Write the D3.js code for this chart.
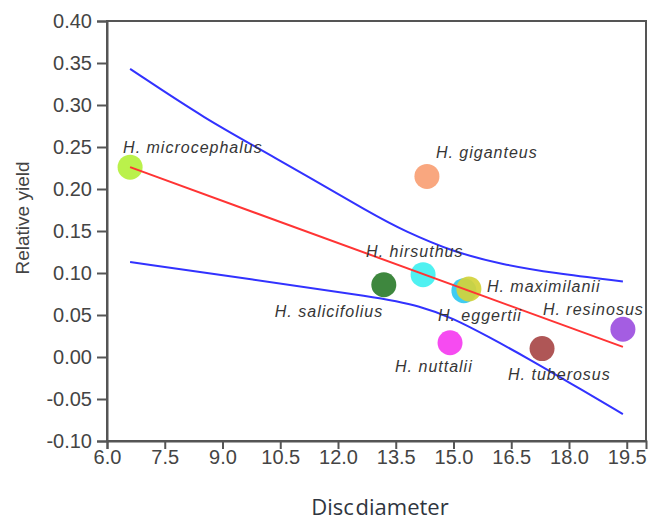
<!DOCTYPE html>
<html>
<head>
<meta charset="utf-8">
<script src="https://cdn.jsdelivr.net/npm/d3@7"></script>
<style>
  body { margin: 0; background: #fff; }
  svg { display: block; }
  .tick text { font-family: "Liberation Sans", Arial, sans-serif; font-size: 20px; fill: #444; }
  .label { font-family: "Liberation Sans", Arial, sans-serif; font-size: 16px; font-style: italic; letter-spacing: 1px; fill: #363636; }
</style>
</head>
<body>
<svg id="chart" width="649" height="524"></svg>
<script>
// species and their values (disc diameter, relative yield)
const species = ["H. microcephalus", "H. giganteus", "H. hirsuthus", "H. salicifolius", "H. eggertii",
                 "H. maximilanii", "H. resinosus", "H. nuttalii", "H. tuberosus"];
const discDiameter = [6.6, 14.31, 14.21, 13.19, 15.27, 15.40, 19.40, 14.91, 17.30];
const relYield = [0.226, 0.215, 0.098, 0.086, 0.079, 0.081, 0.033, 0.017, 0.010];
const colors = ["#b4f03c", "#f8a074", "#40f0f0", "#2e7d2e", "#30c8f0", "#d2d23a", "#9c4fe0", "#f53cf0", "#a84848"];

// fitted line and confidence band
const fitX = [6.6, 19.4];
const fitY = [0.226, 0.012];
const upperX = [6.6, 8.6, 10.16, 13.01, 13.69, 14.99, 16.29, 17.58, 19.4];
const upperY = [0.343, 0.282, 0.243, 0.167, 0.151, 0.125, 0.110, 0.100, 0.090];
const lowerX = [6.6, 9.82, 13.01, 14.13, 14.99, 15.87, 16.99, 18.03, 19.4];
const lowerY = [0.113, 0.092, 0.071, 0.061, 0.046, 0.025, -0.003, -0.031, -0.068];

const xTicks = [6.0, 7.5, 9.0, 10.5, 12.0, 13.5, 15.0, 16.5, 18.0, 19.5];
const yTicks = [0.40, 0.35, 0.30, 0.25, 0.20, 0.15, 0.10, 0.05, 0.00, -0.05, -0.10];

// label offsets from each point (px)
const labelOffsets = [[-7, -14], [9, -18], [-57, -18], [-109, 32], [-26, 30], [18, 3], [-80, -14], [-55, 29], [-34, 31]];

const svg = d3.select("#chart");
const plotLeft = 107, plotRight = 646, plotTop = 21, plotBottom = 441;

const x = d3.scaleLinear().domain([6, 20]).range([plotLeft, plotRight]);
const y = d3.scaleLinear().domain([-0.10, 0.40]).range([plotBottom, plotTop]);

// box
svg.append("rect")
    .attr("x", plotLeft).attr("y", plotTop)
    .attr("width", plotRight - plotLeft).attr("height", plotBottom - plotTop)
    .attr("fill", "none").attr("stroke", "#555").attr("stroke-width", 2);

const xAxis = svg.append("g")
    .attr("transform", `translate(0,${plotBottom})`)
    .call(d3.axisBottom(x).tickValues(xTicks).tickFormat(d3.format(".1f")).tickSize(8).tickPadding(1));
const yAxis = svg.append("g")
    .attr("transform", `translate(${plotLeft},0)`)
    .call(d3.axisLeft(y).tickValues(yTicks).tickFormat(d => d3.format(".2f")(d).replace("−", "-")).tickSize(10).tickPadding(5));
[xAxis, yAxis].forEach(g => {
    g.select(".domain").attr("stroke", "#555").attr("stroke-width", 2);
    g.selectAll(".tick line").attr("stroke", "#555").attr("stroke-width", 2);
});

// points
svg.selectAll(".dot")
    .data(species)
    .enter()
    .append("circle")
    .attr("class", "dot")
    .attr("cx", (d, i) => x(discDiameter[i]))
    .attr("cy", (d, i) => y(relYield[i]))
    .attr("r", 12.5)
    .attr("fill", (d, i) => colors[i])
    .attr("opacity", 0.92);

// lines
const line = d3.line().curve(d3.curveBasis);
const toPts = (xs, ys) => xs.map((v, i) => [x(v), y(ys[i])]);
svg.append("path").attr("d", line(toPts(upperX, upperY)))
    .attr("fill", "none").attr("stroke", "#3232ff").attr("stroke-width", 2);
svg.append("path").attr("d", line(toPts(lowerX, lowerY)))
    .attr("fill", "none").attr("stroke", "#3232ff").attr("stroke-width", 2);
svg.append("path").attr("d", d3.line()(toPts(fitX, fitY)))
    .attr("fill", "none").attr("stroke", "#ff3434").attr("stroke-width", 2);

// species labels
svg.selectAll(".label")
    .data(species)
    .enter()
    .append("text")
    .attr("class", "label")
    .attr("x", (d, i) => x(discDiameter[i]) + labelOffsets[i][0])
    .attr("y", (d, i) => y(relYield[i]) + labelOffsets[i][1])
    .text(d => d);

// axis titles
svg.append("text")
    .attr("transform", "translate(29,218) rotate(-90)")
    .attr("text-anchor", "middle")
    .style("font-family", "'Liberation Sans', Arial, sans-serif")
    .style("font-size", "19px")
    .style("fill", "#444")
    .text("Relative yield");

svg.append("text")
    .attr("x", 380).attr("y", 515)
    .attr("text-anchor", "middle")
    .style("font-family", "'Open Sans', sans-serif")
    .style("font-size", "22px")
    .style("word-spacing", "-4px")
    .style("fill", "#2f3540")
    .text("Disc diameter");
</script>
</body>
</html>
